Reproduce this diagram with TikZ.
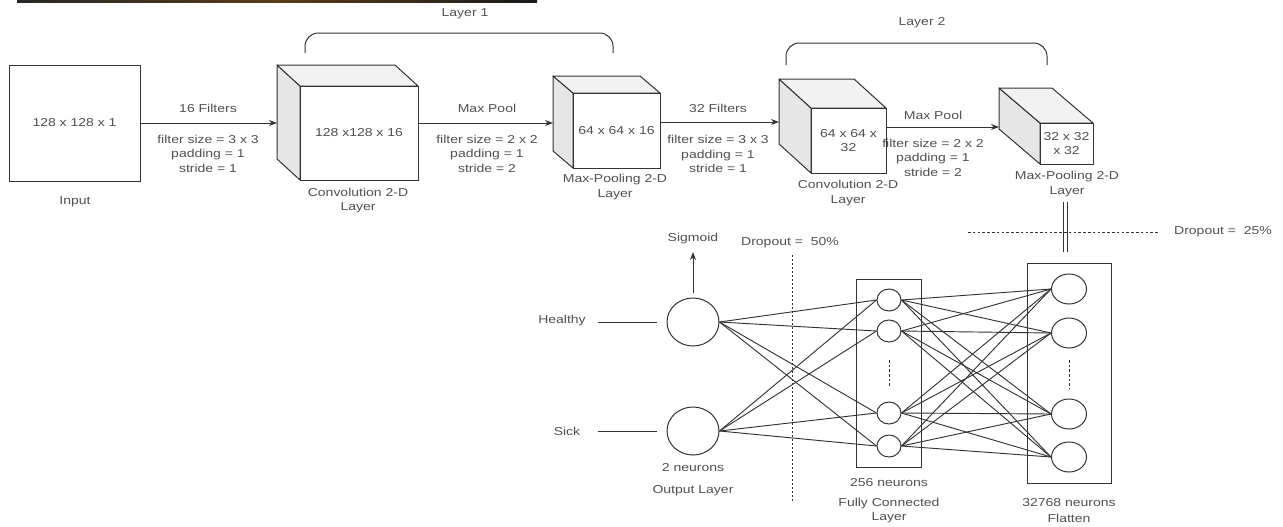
\documentclass[tikz,border=0pt]{standalone}
\usepackage{fontspec}
\setmainfont{Liberation Sans}[FakeStretch=1.22]
\usetikzlibrary{arrows.meta,shapes.geometric,fit}
\definecolor{ln}{HTML}{333333}
\definecolor{tx}{HTML}{505050}
\definecolor{sidef}{HTML}{E6E6E6}
\definecolor{topf}{HTML}{F2F2F2}
\tikzset{
  lbl/.style={inner sep=0pt, align=center, text=tx},
  face/.style={draw=ln, fill=white, line width=0.75pt, inner sep=0pt, align=center, text=tx},
  wire/.style={draw=ln, line width=0.75pt},
  arr/.style={wire, -{Stealth[length=6pt,width=4.5pt]}},
  bigneuron/.style={ellipse, draw=ln, line width=0.75pt, inner sep=0pt},
  cubeside/.style={fill=sidef, draw=ln, line width=0.75pt, line join=round},
  cubetop/.style={fill=topf, draw=ln, line width=0.75pt, line join=round},
}
\newcommand\cnncube[8]{%
  \filldraw[cubeside] (#2,#3) -- ({#2+#4},{#3+#5}) -- ({#2+#4},{#3+#5+#7}) -- (#2,{#3+#7}) -- cycle;
  \filldraw[cubetop] (#2,#3) -- ({#2+#6},#3) -- ({#2+#6+#4},{#3+#5}) -- ({#2+#4},{#3+#5}) -- cycle;
  \coordinate (#1tl) at ({#2+#4},{#3+#5});
  \coordinate (#1br) at ({#2+#4+#6},{#3+#5+#7});
  \node[face, fit=(#1tl)(#1br)] (#1) {};
  \node[lbl] at (#1.center) {#8};
}
\begin{document}
\begin{tikzpicture}[x=0.75pt, y=-0.75pt, font=\fontsize{8.6}{10.9}\selectfont]
\useasboundingbox (0,0) rectangle (1283,526);
% top strip
\shade[left color=black!85, right color=black!90, middle color={rgb,255:red,90;green,60;blue,25}] (17,0) rectangle (537,2);

% input
\node[face, minimum width={131*0.75pt}, minimum height={116*0.75pt}] (in) at (74.5,123) {128 x 128 x 1};
\node[lbl] (inl) at (75,202) {Input};

% cubes
\cnncube{c1}{277}{65}{23}{21}{118}{94}{128 x128 x 16}
\cnncube{p1}{553}{76}{20}{17}{87}{75}{64 x 64 x 16}
\cnncube{c2}{779}{79}{32}{29}{75}{65}{\fontsize{8.6}{12}\selectfont 64 x 64 x\\32}
\cnncube{p2}{999}{88}{41}{35}{53}{41}{\fontsize{8.6}{13.5}\selectfont 32 x 32\\x 32}

\node[lbl] (c1l) at (358,200.5) {Convolution 2-D\\Layer};
\node[lbl] (p1l) at (615,187) {Max-Pooling 2-D\\Layer};
\node[lbl] (c2l) at (848,193) {Convolution 2-D\\Layer};
\node[lbl] (p2l) at (1067,184) {Max-Pooling 2-D\\Layer};

% arrows between stages
\coordinate (c1in) at (277,123);
\coordinate (p1in) at (553,123);
\coordinate (c2in) at (779,122);
\coordinate (p2in) at (999,127);
\draw[arr] (in.east) -- (c1in);
\draw[arr] (c1.east |- p1in) -- (p1in);
\draw[arr] (p1.east |- c2in) -- (c2in);
\draw[arr] (c2.east |- p2in) -- (p2in);

\node[lbl] (t1) at (208,108) {16 Filters};
\node[lbl] (b1) at (208,153.5) {filter size = 3 x 3\\padding = 1\\stride = 1};
\node[lbl] (t2) at (487,108) {Max Pool};
\node[lbl] (b2) at (487,153.5) {filter size = 2 x 2\\padding = 1\\stride = 2};
\node[lbl] (t3) at (718,108) {32 Filters};
\node[lbl] (b3) at (718,154) {filter size = 3 x 3\\padding = 1\\stride = 1};
\node[lbl] (t4) at (933,115) {Max Pool};
\node[lbl] (b4) at (933,157.5) {filter size = 2 x 2\\padding = 1\\stride = 2};

% braces
\draw[wire, rounded corners=10pt] (305,53) |- (459,33) -| (613,53);
\node[lbl] (L1) at (465,14) {Layer 1};
\draw[wire, rounded corners=10pt] (786,65) |- (916,43) -| (1047,65);
\node[lbl] (L2) at (922,23) {Layer 2};

% double link
\coordinate (dlA) at (1065,202);
\coordinate (dlB) at (1065,252);
\draw[draw=ln, line width=0.75pt, double=white, double distance=2.25pt] (dlA) -- (dlB);

% dropout 25%
\coordinate (d25a) at (968,232);
\coordinate (d25b) at (1158,232);
\draw[draw=ln, line width=0.6pt, dash pattern=on 2pt off 1.6pt] (d25a) -- (d25b);
\node[lbl] (d25) at (1223,232) {Dropout = \ 25\%};

% dropout 50%
\coordinate (d50a) at (792,255);
\coordinate (d50b) at (792,503);
\draw[draw=ln, line width=0.6pt, dash pattern=on 1.5pt off 1.5pt] (d50a) -- (d50b);
\node[lbl] (d50) at (790,243) {Dropout = \ 50\%};

% boxes
\draw[wire] (856,279) rectangle (921,467);
\draw[wire] (1027,263) rectangle (1111,483);

% output neurons
\node[bigneuron, minimum width={52*0.75pt}, minimum height={48*0.75pt}] (o1) at (693,322) {};
\node[bigneuron, minimum width={52*0.75pt}, minimum height={48*0.75pt}] (o2) at (693,431) {};

% FC neurons
\foreach \i/\y in {1/300,2/331,3/413,4/446}
  \node[bigneuron, minimum width={24*0.75pt}, minimum height={22*0.75pt}] (f\i) at (889,\y) {};
% flatten neurons
\foreach \i/\y in {1/289,2/333,3/414,4/457}
  \node[bigneuron, minimum width={35*0.75pt}, minimum height={30*0.75pt}] (g\i) at (1069,\y) {};

% connections
\foreach \o in {o1,o2}
  \foreach \f in {f1,f2,f3,f4}
    \draw[wire, line width=0.7pt] (\o.east) -- (\f.west);
\foreach \f in {f1,f2,f3,f4}
  \foreach \g in {g1,g2,g3,g4}
    \draw[wire, line width=0.7pt] (\f.east) -- (\g.west);

% vertical dots
\coordinate (fdA) at (889,360);
\coordinate (fdB) at (889,388);
\draw[draw=ln, line width=0.6pt, dash pattern=on 2pt off 1.5pt] (fdA) -- (fdB);
\coordinate (gdA) at (1069,360);
\coordinate (gdB) at (1069,389);
\draw[draw=ln, line width=0.6pt, dash pattern=on 2pt off 1.5pt] (gdA) -- (gdB);

% sigmoid
\coordinate (sgTip) at (693,252);
\node[lbl] (sg) at (693,239) {Sigmoid};
\draw[arr] ([yshift=3.75pt]o1.north) -- (sgTip);

% class labels
\node[lbl] (hl) at (562,321) {Healthy};
\node[lbl] (sl) at (567,431) {Sick};
\coordinate (hA) at (598,322); \coordinate (hB) at (657,322);
\coordinate (sA) at (598,431); \coordinate (sB) at (657,431);
\draw[wire] (hA) -- (hB);
\draw[wire] (sA) -- (sB);

% layer labels
\node[lbl] (ol1) at (693,468) {2 neurons};
\node[lbl] (ol2) at (693,491) {Output Layer};
\node[lbl] (fl1) at (889,483) {256 neurons};
\node[lbl] (fl2) at (889,510.5) {Fully Connected\\Layer};
\node[lbl] (gl1) at (1069,503) {32768 neurons};
\node[lbl] (gl2) at (1069,518) {Flatten};
\end{tikzpicture}
\end{document}
